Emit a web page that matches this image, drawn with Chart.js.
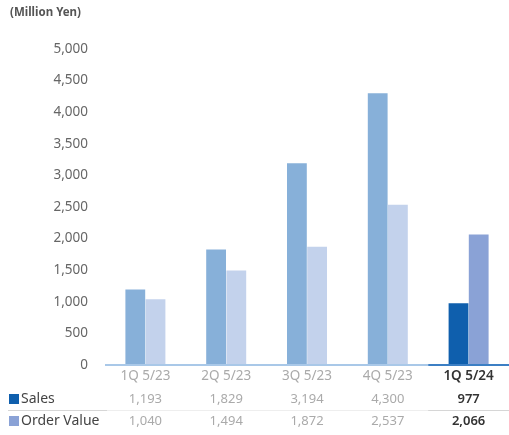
<!DOCTYPE html>
<html>
<head>
<meta charset="utf-8">
<script src="https://cdn.jsdelivr.net/npm/chart.js@4"></script>
<style>
  body { margin: 0; background: #fff; }
  #wrap { width: 509px; height: 435px; }
</style>
</head>
<body>
<div id="wrap"><canvas id="sales"></canvas></div>
<script>
const quarters = ['1Q 5/23', '2Q 5/23', '3Q 5/23', '4Q 5/23', '1Q 5/24']
const sales = [1193, 1829, 3194, 4300, 977]
const orderValue = [1040, 1494, 1872, 2537, 2066]
const yTicks = [0, 500, 1000, 1500, 2000, 2500, 3000, 3500, 4000, 4500, 5000]

const FONT = '"Noto Sans", sans-serif'
const last = quarters.length - 1

// past quarters are faded, current one is strong
const salesColors = quarters.map((q, i) => i == last ? '#0F5FAD' : '#87B0D9')
const orderColors = quarters.map((q, i) => i == last ? '#8AA2D6' : '#C3D2EC')

const fmt = v => v.toLocaleString('en-US')

const tablePlugin = {
  id: 'table',
  afterDraw(chart) {
    const ctx = chart.ctx
    const x = chart.scales.x
    const area = chart.chartArea
    ctx.save()

    // axis line, darker under the last quarter
    const half = (x.getPixelForValue(1) - x.getPixelForValue(0)) / 2
    const splitX = x.getPixelForValue(last) - half
    ctx.lineWidth = 2
    ctx.strokeStyle = '#A9C8E8'
    ctx.beginPath(); ctx.moveTo(area.left, area.bottom); ctx.lineTo(splitX, area.bottom); ctx.stroke()
    ctx.strokeStyle = '#3C7FC4'
    ctx.beginPath(); ctx.moveTo(splitX, area.bottom); ctx.lineTo(area.right, area.bottom); ctx.stroke()

    // title
    ctx.fillStyle = '#555'
    ctx.font = 'bold 11.5px ' + FONT
    ctx.textBaseline = 'middle'
    ctx.textAlign = 'left'
    ctx.fillText('(Million Yen)', 10, 13)

    // row separator
    const sepY = 410.5
    ctx.lineWidth = 1
    ctx.strokeStyle = '#EEEEEE'
    ctx.beginPath(); ctx.moveTo(8, sepY); ctx.lineTo(509, sepY); ctx.stroke()
    ctx.strokeStyle = '#D6D6D6'
    ctx.beginPath(); ctx.moveTo(8, sepY); ctx.lineTo(107, sepY); ctx.stroke()
    ctx.beginPath(); ctx.moveTo(splitX, sepY); ctx.lineTo(509, sepY); ctx.stroke()

    const rows = [
      { name: 'Sales', values: sales, color: '#0F5FAD', y: 399 },
      { name: 'Order Value', values: orderValue, color: '#8AA2D6', y: 421 }
    ]
    for (const row of rows) {
      ctx.fillStyle = row.color
      ctx.fillRect(9, row.y - 5, 10, 10)
      ctx.fillStyle = '#444'
      ctx.font = '14px ' + FONT
      ctx.textAlign = 'left'
      ctx.fillText(row.name, 21, row.y)
      ctx.textAlign = 'center'
      row.values.forEach((v, i) => {
        if (i == last) {
          ctx.fillStyle = '#333'
          ctx.font = '600 13px ' + FONT
        } else {
          ctx.fillStyle = '#AAAAAA'
          ctx.font = '13px ' + FONT
        }
        ctx.fillText(fmt(v), x.getPixelForValue(i), row.y)
      })
    }
    ctx.restore()
  }
}

const ctx = document.getElementById('sales').getContext('2d')
const salesChart = new Chart(ctx, {
  type: 'bar',
  data: {
    labels: quarters,
    datasets: [{
      label: 'Sales',
      data: sales,
      backgroundColor: salesColors
    }, {
      label: 'Order Value',
      data: orderValue,
      backgroundColor: orderColors
    }]
  },
  options: {
    responsive: true,
    maintainAspectRatio: false,
    animation: false,
    layout: {
      padding: { top: 49, right: 0, bottom: 44, left: 0 }
    },
    datasets: {
      bar: { categoryPercentage: 0.5, barPercentage: 0.98 }
    },
    plugins: {
      legend: { display: false },
      tooltip: { enabled: false }
    },
    scales: {
      x: {
        grid: { display: false, drawTicks: false },
        border: { display: false },
        afterFit(scale) { scale.height = 26 },
        ticks: {
          padding: 3,
          color: c => c.index == last ? '#333' : '#AAAAAA',
          font: c => ({ family: FONT, size: 13.5, weight: c.index == last ? '600' : 'normal' })
        }
      },
      y: {
        min: 0,
        max: 5000,
        afterBuildTicks(scale) { scale.ticks = yTicks.map(v => ({ value: v })) },
        afterFit(scale) { scale.width = 105 },
        grid: { display: false, drawTicks: false },
        border: { display: false },
        ticks: {
          padding: 17,
          color: '#666',
          font: { family: FONT, size: 13.5 },
          callback: v => fmt(v)
        }
      }
    }
  },
  plugins: [tablePlugin]
})
</script>
</body>
</html>
